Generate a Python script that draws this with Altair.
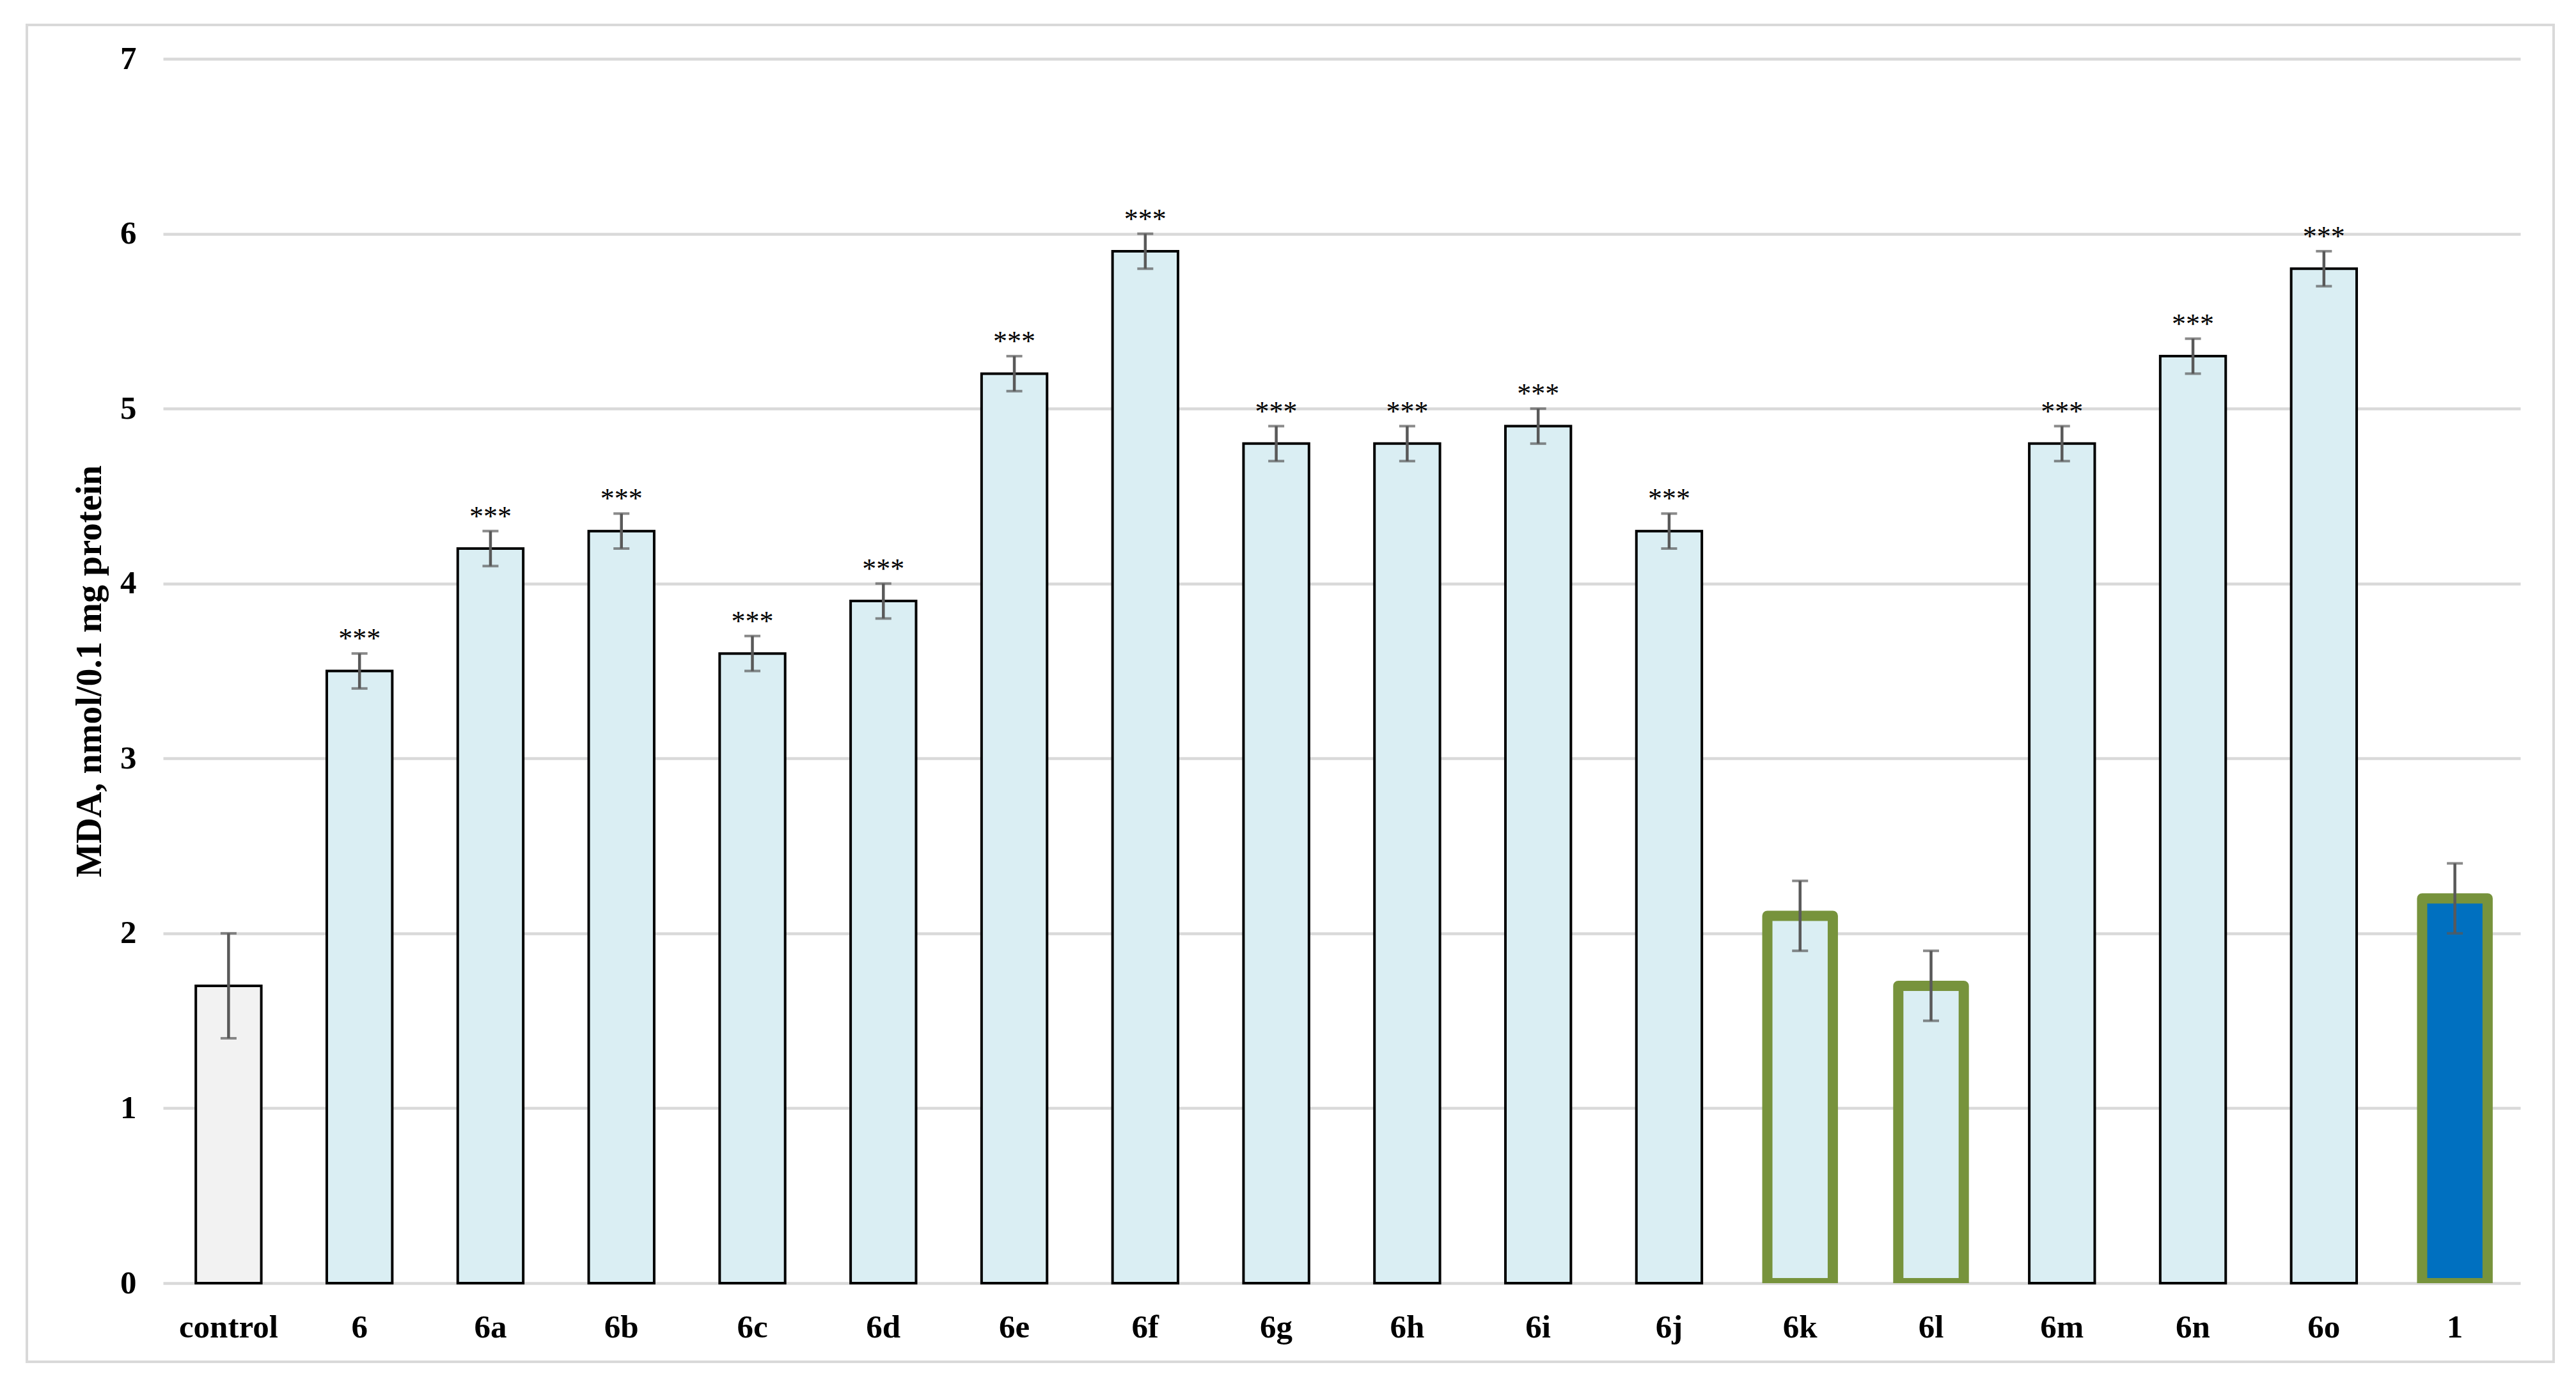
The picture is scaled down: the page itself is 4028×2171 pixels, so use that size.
import altair as alt
import pandas as pd

categories = ["control", "6", "6a", "6b", "6c", "6d", "6e", "6f", "6g", "6h",
              "6i", "6j", "6k", "6l", "6m", "6n", "6o", "1"]
values = [1.7, 3.5, 4.2, 4.3, 3.6, 3.9, 5.2, 5.9, 4.8, 4.8,
          4.9, 4.3, 2.1, 1.7, 4.8, 5.3, 5.8, 2.2]
errors = [0.3, 0.1, 0.1, 0.1, 0.1, 0.1, 0.1, 0.1, 0.1, 0.1,
          0.1, 0.1, 0.2, 0.2, 0.1, 0.1, 0.1, 0.2]
stars = ["", "***", "***", "***", "***", "***", "***", "***", "***", "***",
         "***", "***", "", "", "***", "***", "***", ""]
groups = ["control", "plain", "plain", "plain", "plain", "plain", "plain", "plain", "plain", "plain",
          "plain", "plain", "green", "green", "plain", "plain", "plain", "ref"]
y_ticks = [0, 1, 2, 3, 4, 5, 6, 7]

df = pd.DataFrame({
    "cat": categories,
    "val": values,
    "lo": [v - e for v, e in zip(values, errors)],
    "hi": [v + e for v, e in zip(values, errors)],
    "stars": stars,
    "group": groups,
})

FONT = "Liberation Serif"

x_enc = alt.X("cat:N", sort=categories,
              scale=alt.Scale(paddingInner=0.5, paddingOuter=0.25),
              axis=alt.Axis(title=None, labelAngle=0, labelFont=FONT, labelFontSize=51,
                            labelFontWeight="bold", labelColor="black", ticks=False, tickSize=0,
                            domain=False, grid=False, labelPadding=44))
y_enc = alt.Y("val:Q", scale=alt.Scale(domain=[0, 7], nice=False),
              axis=alt.Axis(title="MDA, nmol/0.1 mg protein", values=y_ticks, format="d",
                            labelFont=FONT, labelFontSize=51, labelFontWeight="bold",
                            labelColor="black", ticks=False, tickSize=0, domain=False,
                            grid=True, gridColor="#D9D9D9", gridWidth=4.5, labelPadding=42,
                            titleFont=FONT, titleFontSize=56, titleFontWeight="bold",
                            titleColor="black", titlePadding=18))

base = alt.Chart(df)

plain_bars = base.transform_filter(alt.datum.group == "plain").mark_bar(
    fill="#DAEEF3", stroke="black", strokeWidth=4).encode(x=x_enc, y=y_enc)
control_bar = base.transform_filter(alt.datum.group == "control").mark_bar(
    fill="#F2F2F2", stroke="black", strokeWidth=4).encode(x=x_enc, y=y_enc)
green_bars = base.transform_filter(alt.datum.group == "green").mark_bar(
    fill="#DAEEF3", stroke="#77933C", strokeWidth=16, strokeJoin="round", clip=True).encode(x=x_enc, y=y_enc)
ref_bar = base.transform_filter(alt.datum.group == "ref").mark_bar(
    fill="#0070C0", stroke="#77933C", strokeWidth=16, strokeJoin="round", clip=True).encode(x=x_enc, y=y_enc)

err_rule = base.mark_rule(color="#595959", strokeWidth=4.5).encode(
    x=alt.X("cat:N", sort=categories), y="lo:Q", y2="hi:Q")
cap_hi = base.mark_tick(color="#595959", thickness=4, size=25).encode(
    x=alt.X("cat:N", sort=categories), y="hi:Q")
cap_lo = base.mark_tick(color="#595959", thickness=4, size=25).encode(
    x=alt.X("cat:N", sort=categories), y="lo:Q")

star_text = base.mark_text(font=FONT, fontSize=44, color="black", baseline="alphabetic",
                           align="center", dy=-9).encode(
    x=alt.X("cat:N", sort=categories), y="hi:Q", text="stars:N")

frame = alt.Chart(pd.DataFrame({"f": [0]})).mark_rect(
    fillOpacity=0, stroke="#D9D9D9", strokeWidth=4).encode(
    x=alt.value(-213), x2=alt.value(3738), y=alt.value(-53), y2=alt.value(2038))

chart = alt.layer(frame, control_bar, plain_bars, green_bars, ref_bar,
                  err_rule, cap_hi, cap_lo, star_text).properties(
    width=3686, height=1915,
    padding={"left": 32, "top": 29, "right": 10, "bottom": 10},
    background="white",
).configure_view(stroke=None)

chart.save("out.html", embed_options={"renderer": "svg", "actions": False})
